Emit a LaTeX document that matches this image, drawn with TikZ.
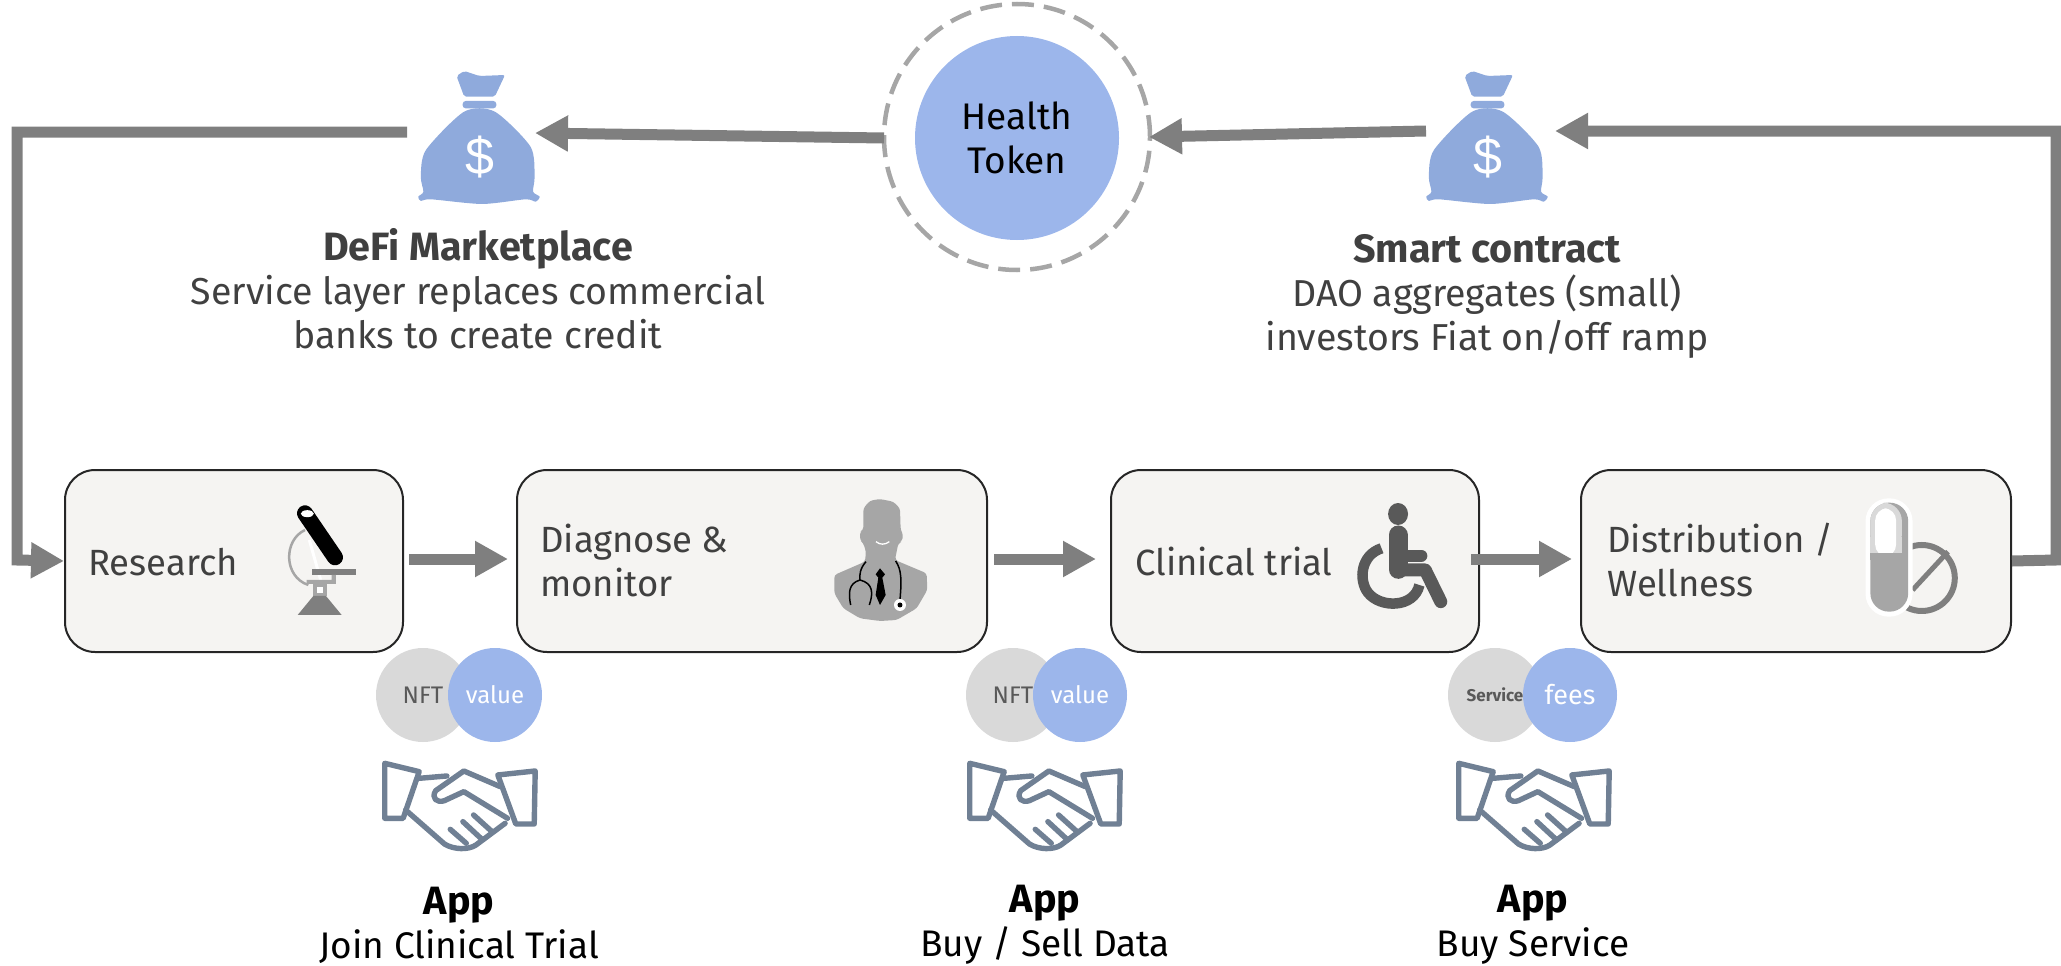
\documentclass[tikz,border=0pt]{standalone}
\usepackage{fontspec}
\setmainfont{Fira Sans}
\newfontfamily\dollarfont{Liberation Sans}
\usetikzlibrary{arrows.meta}
\definecolor{arrowgray}{HTML}{7F7F7F}
\definecolor{boxfill}{HTML}{F5F4F2}
\definecolor{boxline}{HTML}{262626}
\definecolor{txt}{HTML}{404040}
\definecolor{tokenblue}{HTML}{9CB6EB}
\definecolor{bagblue}{HTML}{8FAADC}
\definecolor{lightcirc}{HTML}{D9D9D9}
\definecolor{shake}{HTML}{708094}
\definecolor{icongray}{HTML}{A6A6A6}
\definecolor{icondark}{HTML}{595959}
\newcommand{\capbold}[1]{{\fontsize{39.5}{44}\selectfont\bfseries #1}}
\tikzset{
  x=1pt,y=-1pt,
  conn/.style={draw=arrowgray,line width=11pt,line join=miter,-{Triangle[length=33pt,width=34pt]}},
  stagebox/.style={draw=boxline,line width=2pt,fill=boxfill,rounded corners=30pt,minimum height=182pt,inner sep=0pt},
  boxlabel/.style={anchor=west,align=left,text=txt,font=\fontsize{36.5}{44}\selectfont,inner sep=0pt},
  caption/.style={align=center,text=txt,font=\fontsize{37.5}{44}\selectfont,inner sep=0pt},
  applabel/.style={align=center,text=black,font=\fontsize{37}{44}\selectfont,inner sep=0pt},
  disc/.style={circle,minimum size=94pt,inner sep=0pt},
  handshake/.pic={
    \begin{scope}[x=0.4854pt,y=-0.3333pt,draw=shake,line width=5.4pt,line join=round,line cap=round,fill=white]
      \draw (327,880) -- (398,905) -- (365,1045) -- (327,1045) -- cycle;
      \draw (560,915) -- (637,903) -- (635,1062) -- (597,1062) -- cycle;
      \draw (398,925) -- (455,918);
      \draw (565,950) -- (490,903) -- (432,962) .. controls (422,985) and (435,1000) .. (450,992) -- (490,965) -- (580,1045);
      \draw (370,1020) -- (450,1122) .. controls (470,1140) and (500,1140) .. (515,1125) -- (575,1060);
      \draw (462,1078) -- (495,1120);
      \draw (488,1055) -- (525,1105);
      \draw (510,1035) -- (548,1085);
    \end{scope}
  },
  moneybag/.pic={
    \begin{scope}[x=0.5102pt,y=-0.3333pt,fill=bagblue]
      \fill[rounded corners=2pt] (150,228) -- (165,213) -- (195,228) -- (245,225) -- (225,290) -- (165,290) -- cycle;
      \fill[rounded corners=3pt] (162,303) rectangle (228,325);
      \fill plot[smooth cycle,tension=.45] coordinates {(165,335) (225,335) (295,440) (303,530) (300,575) (313,590) (305,605) (285,598) (200,612) (100,598) (80,603) (75,590) (85,575) (80,530) (90,450)};
      \node[text=white,font=\dollarfont\fontsize{52}{52}\selectfont,inner sep=0pt] (-dollar) at (195,472) {\$};
    \end{scope}
  }
}
\begin{document}
\begin{tikzpicture}
\useasboundingbox (0,0) rectangle (2061,966);

% stage boxes
\node[stagebox,minimum width=338pt] (research) at (234,561) {};
\node[stagebox,minimum width=470pt] (diagnose) at (752,561) {};
\node[stagebox,minimum width=368pt] (clinical) at (1295,561) {};
\node[stagebox,minimum width=430pt] (distrib) at (1796,561) {};
\node[boxlabel] (lresearch) at (88,562) {Research};
\node[boxlabel] (ldiagnose) at (540,560) {Diagnose \&\\monitor};
\node[boxlabel] (lclinical) at (1135,561) {Clinical trial};
\node[boxlabel] (ldistrib) at (1607,560) {Distribution /\\Wellness};

% microscope
\begin{scope}[shift={(250,470)},x=0.3333pt,y=-0.3333pt]
  \draw[color=icongray,line width=2.5pt] (165,180) .. controls (100,210) and (100,320) .. (175,345);
  \draw[white,line width=3pt] (178,210) -- (212,330);
  \draw[black,line width=16pt,line cap=round] (165,130) -- (255,262);
  \fill[white] (172,131) ellipse [x radius=6.5pt,y radius=3.5pt];
  \fill[color=arrowgray] (185,298) rectangle (317,315);
  \fill[color=icongray] (245,315) -- (258,315) -- (258,342) -- (170,342) -- (170,330) -- (245,330) -- cycle;
  \fill[color=icongray] (188,338) rectangle (230,378);
  \fill[white] (200,350) rectangle (220,368);
  \fill[color=arrowgray] (143,435) -- (275,435) -- (228,378) -- (190,378) -- cycle;
\end{scope}

% doctor
\begin{scope}[shift={(780,480)},x=0.3333pt,y=-0.3333pt]
  \fill[color=icongray,rounded corners=3pt] (250,85) -- (270,62) -- (300,57) -- (340,65) -- (360,85) -- (362,150) -- (370,165) -- (365,185) -- (355,190) -- (350,215) -- (345,240) -- (440,280) -- (442,330) -- (410,385) -- (350,420) -- (300,423) -- (240,415) -- (190,385) -- (163,340) -- (163,285) -- (255,245) -- (258,215) -- (250,190) -- (240,180) -- (240,155) -- (250,150) -- cycle;
  \draw[white,line width=1.3pt] (288,185) .. controls (300,195) and (315,195) .. (328,185);
  \draw[black,line width=1.5pt] (258,245) .. controls (240,265) and (238,285) .. (240,300);
  \draw[black,line width=1.5pt] (212,375) .. controls (205,340) and (205,310) .. (240,300) .. controls (280,310) and (280,340) .. (268,375);
  \draw[black,line width=1.5pt] (347,243) .. controls (365,270) and (365,300) .. (360,360);
  \fill[white] (360,375) circle (6pt);
  \fill[black] (360,375) circle (2.5pt);
  \fill[black] (300,265) -- (315,283) -- (307,293) -- (317,345) -- (300,375) -- (287,345) -- (295,293) -- (287,283) -- cycle;
\end{scope}

% wheelchair and pill
\begin{scope}[shift={(1300,470)},x=0.4854pt,y=-0.3333pt]
  \fill[color=icondark] (202,132) ellipse [x radius=10pt,y radius=11pt];
  \draw[color=icondark,line width=19pt,line cap=round,line join=round] (202,195) -- (202,298);
  \draw[color=icondark,line width=13pt,line cap=round,line join=round] (210,300) -- (258,300) -- (290,395);
  \draw[color=icondark,line width=12pt,line cap=round] (202,257) -- (250,257);
  \draw[color=icondark,line width=10.5pt] (168,235) .. controls (125,255) and (120,330) .. (140,368) .. controls (165,415) and (235,415) .. (246,345);
  \draw[color=arrowgray,line width=6pt] (1281,324) circle (33pt);
  \draw[color=arrowgray,line width=5pt] (1335,245) -- (1262,360);
  \fill[white,rounded corners=23pt] (1165,85) rectangle (1262,440);
  \fill[color=icongray,rounded corners=18.5pt] (1175,98) rectangle (1253,425);
  \fill[color=lightcirc,rounded corners=18.5pt] (1175,248) -- (1175,98) -- (1240,98) -- (1240,248) -- cycle;
  \fill[color=lightcirc] (1175,200) rectangle (1240,248);
  \fill[white,rounded corners=12pt] (1185,260) -- (1185,115) -- (1228,115) -- (1228,260) -- cycle;
  \fill[color=icongray] (1175,248) rectangle (1253,270);
\end{scope}

% token
\node[circle,draw=icongray,dash pattern=on 22pt off 10pt,line width=4.5pt,minimum size=266pt,inner sep=0pt] (ring) at (1017,137) {};
\node[circle,fill=tokenblue,minimum size=204pt,inner sep=0pt,align=center,font=\fontsize{37}{44}\selectfont,text=black] (token) at (1017,138) {Health\\Token};

% money bags
\pic (bagl) at (380,0) {moneybag};
\pic (bagr) at (1388,0) {moneybag};
\node[caption] (cdefi) at (478,289) {\capbold{DeFi Marketplace}\\Service layer replaces commercial\\banks to create credit};
\node[caption] (csmart) at (1487,296) {\capbold{Smart contract}\\DAO aggregates (small)\\investors Fiat on/off ramp};

% free connector ends
\coordinate (bagLin) at (535,133);
\coordinate (bagLout) at (407,132);
\coordinate (bagRin) at (1555,131);
\coordinate (bagRout) at (1426,131);
\coordinate (tokR) at (1149,137);
\coordinate (tokL) at (884,138);
\coordinate (cornerTL) at (17,132);
\coordinate (cornerBL) at (17,560);
\coordinate (cornerBR) at (2056,560);
\coordinate (cornerTR) at (2056,131);

% connectors
\draw[conn,shorten <=5pt,shorten >=8pt] ([yshift=2pt]research.east) -- ([yshift=2pt]diagnose.west);
\draw[conn,shorten <=6pt,shorten >=14pt] ([yshift=2pt]diagnose.east) -- ([yshift=2pt]clinical.west);
\draw[conn,shorten <=-9pt,shorten >=8pt] ([yshift=2pt]clinical.east) -- ([yshift=2pt]distrib.west);
\draw[conn] (tokL) -- (bagLin);
\draw[conn] (bagRout) -- (tokR);
\draw[conn] (distrib.east) -- (cornerBR) -- (cornerTR) -- (bagRin);
\draw[conn] (bagLout) -- (cornerTL) -- (cornerBL) -- (research.west);

% pairs of discs
\node[disc,fill=lightcirc,text=icondark,font=\fontsize{24}{24}\selectfont] (nft1) at (423,695) {NFT};
\node[disc,fill=tokenblue,text=white,font=\fontsize{24}{24}\selectfont] (val1) at (495,695) {value};
\node[disc,fill=lightcirc,text=icondark,font=\fontsize{24}{24}\selectfont] (nft2) at (1013,695) {NFT};
\node[disc,fill=tokenblue,text=white,font=\fontsize{24}{24}\selectfont] (val2) at (1080,695) {value};
\node[disc,fill=lightcirc,text=icondark,font=\fontsize{17}{17}\bfseries\selectfont] (svc) at (1495,695) {Service};
\node[disc,fill=tokenblue,text=white,font=\fontsize{27}{27}\selectfont] (fees) at (1570,695) {fees};

% handshakes
\pic (hs1) at (226,470) {handshake};
\pic (hs2) at (811,470) {handshake};
\pic (hs3) at (1300,470) {handshake};

% app labels
\node[applabel] (app1) at (459,925) {\capbold{App}\\Join Clinical Trial};
\node[applabel] (app2) at (1045,925) {\capbold{App}\\Buy / Sell Data};
\node[applabel] (app3) at (1533,925) {\capbold{App}\\Buy Service};
\end{tikzpicture}
\end{document}
